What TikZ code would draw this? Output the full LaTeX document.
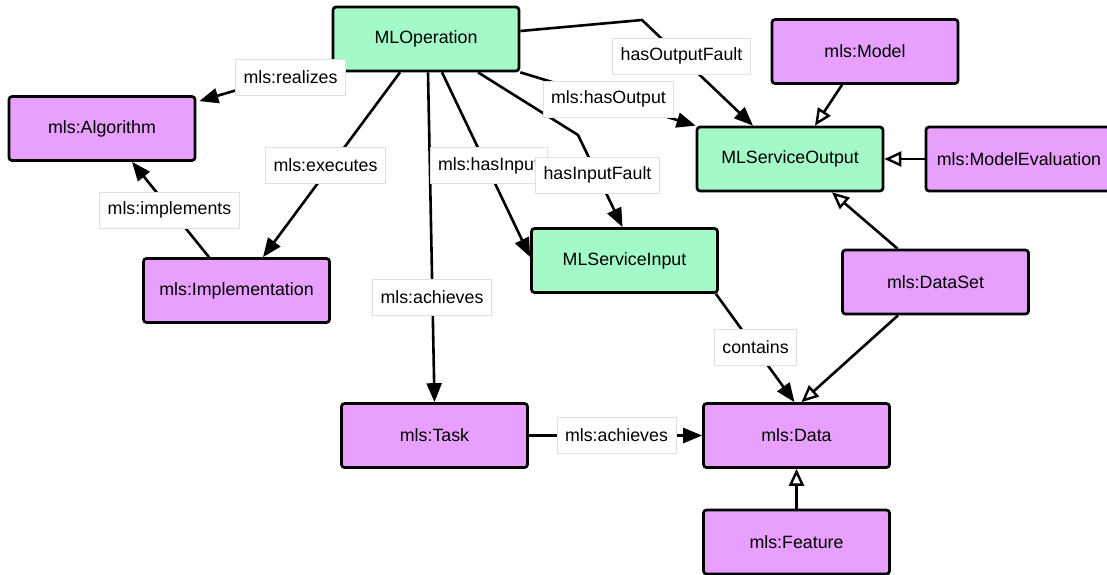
\documentclass[tikz,border=0pt]{standalone}
\usepackage{fontspec}
\setmainfont{Liberation Sans}
\usetikzlibrary{arrows.meta}
\definecolor{mint}{HTML}{A3F9C8}
\definecolor{violet}{HTML}{E8A0FE}
\begin{document}
\begin{tikzpicture}[x=1pt,y=-1pt,
  box/.style={draw=black, line width=2.7pt, rounded corners=3pt, minimum width=186pt, minimum height=64pt, inner sep=0pt, font=\fontsize{17.8pt}{20pt}\selectfont},
  gbox/.style={box, fill=mint},
  pbox/.style={box, fill=violet},
  lbl/.style={draw=black!12, line width=0.8pt, fill=white, inner xsep=8pt, inner ysep=0pt, minimum height=36pt, font=\fontsize{17.8pt}{20pt}\selectfont},
  edge/.style={line width=2.6pt, -{Triangle[length=19pt,width=15pt]}},
  isa/.style={line width=2.6pt, -{Triangle[open,length=17pt,width=15pt,line width=2.4pt]}}
]
\useasboundingbox (0,0) rectangle (1107,574);

% nodes
\node[gbox] (op) at (426,39) {MLOperation};
\node[pbox] (alg) at (102,128.5) {mls:Algorithm};
\node[pbox] (impl) at (236.5,290.5) {mls:Implementation};
\node[gbox] (in) at (624.5,260.5) {MLServiceInput};
\node[gbox] (out) at (790,159) {MLServiceOutput};
\node[pbox] (model) at (865,51.5) {mls:Model};
\node[pbox] (meval) at (1019,159) {mls:ModelEvaluation};
\node[pbox] (dataset) at (935.5,282) {mls:DataSet};
\node[pbox] (task) at (434.5,435.5) {mls:Task};
\node[pbox] (data) at (796.5,435.5) {mls:Data};
\node[pbox] (feature) at (796.5,542) {mls:Feature};

\coordinate (wpin) at (578,135);
\coordinate (wpout) at (642,20);

% edges
\draw[edge] ([yshift=-23pt]op.west) -- ([yshift=-6pt,xshift=3pt]alg.north east);
\draw[edge] ([xshift=-26pt]op.south) -- ([xshift=26.5pt]impl.north);
\draw[edge] ([xshift=-27.5pt]impl.north) -- ([xshift=30pt]alg.south);
\draw[edge] ([xshift=2pt]op.south) -- (task.north);
\draw[edge] ([xshift=16pt]op.south) -- ([yshift=3.5pt]in.west);
\draw[edge] ([xshift=52pt]op.south) -- (wpin) -- ([xshift=-2pt]in.north);
\draw[edge] (op.south east) -- (out.north west);
\draw[edge] ([yshift=8pt]op.east) -- (wpout) -- ([xshift=-37pt]out.north);
\draw[isa] ([xshift=-23pt]model.south) -- ([xshift=25pt]out.north);
\draw[isa] (meval.west) -- (out.east);
\draw[isa] ([xshift=-38pt]dataset.north) -- ([xshift=42pt]out.south);
\draw[edge] ([xshift=-3pt]in.south east) -- ([xshift=-2pt]data.north);
\draw[isa] ([xshift=-37.5pt]dataset.south) -- ([xshift=5pt]data.north);
\draw[edge] (task.east) -- (data.west);
\draw[isa] (feature.north) -- (data.south);

% labels
\node[lbl] (l1) at (290.5,77) {mls:realizes};
\node[lbl] (l2) at (325.5,165) {mls:executes};
\node[lbl] (l3) at (169.5,210) {mls:implements};
\node[lbl] (l4) at (432,297) {mls:achieves};
\node[lbl] (l5) at (488.5,165.5) {mls:hasInput};
\node[lbl] (l6) at (597.5,175) {hasInputFault};
\node[lbl] (l7) at (608.5,99) {mls:hasOutput};
\node[lbl] (l8) at (681.5,56) {hasOutputFault};
\node[lbl] (l9) at (755.5,347) {contains};
\node[lbl] (l10) at (616.5,435) {mls:achieves};
\end{tikzpicture}
\end{document}
